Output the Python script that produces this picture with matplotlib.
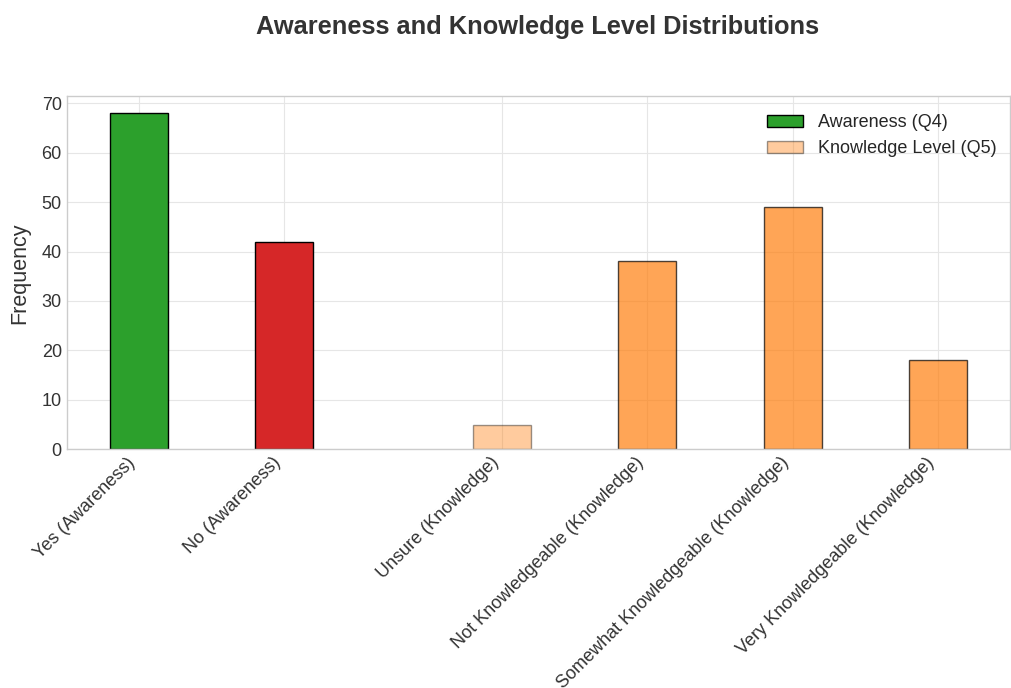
import numpy as np
import matplotlib
matplotlib.use("Agg")
import matplotlib.pyplot as plt
from matplotlib.patches import Patch

plt.style.use("seaborn-v0_8-whitegrid")
plt.rcParams['font.family'] = ['Liberation Sans', 'DejaVu Sans']

# Data
awareness_labels = ["Yes (Awareness)", "No (Awareness)"]
awareness_counts = [68, 42]
knowledge_labels = ["Unsure (Knowledge)", "Not Knowledgeable (Knowledge)",
                    "Somewhat Knowledgeable (Knowledge)", "Very Knowledgeable (Knowledge)"]
knowledge_counts = [5, 38, 49, 18]

aw_pos = np.arange(len(awareness_labels))
kn_pos = np.arange(len(knowledge_labels)) + len(awareness_labels) + 0.5

fig, ax = plt.subplots(figsize=(10.11, 6.88), dpi=100)
fig.subplots_adjust(left=0.066, right=0.999, top=0.86, bottom=0.347)

ax.bar(aw_pos, awareness_counts, width=0.4, color=["#2ca02c", "#d62728"],
       edgecolor="black", linewidth=1)
kn_alpha = [0.4, 0.7, 0.7, 0.7]
for p, c, a in zip(kn_pos, knowledge_counts, kn_alpha):
    ax.bar(p, c, width=0.4, color="#ff7f0e", alpha=a, edgecolor="black", linewidth=1)

ax.set_xticks(np.concatenate([aw_pos, kn_pos]))
ax.set_xticklabels(awareness_labels + knowledge_labels, rotation=45, ha="right",
                   fontsize=13, color="#333333")
ax.tick_params(axis="y", labelsize=13, labelcolor="#333333")
ax.set_ylabel("Frequency", fontsize=15.5, color="#333333", labelpad=8)
ax.grid(True, color="#e6e6e6", linewidth=0.8)
for s in ax.spines.values():
    s.set_color("#cccccc")

handles = [Patch(facecolor="#2ca02c", edgecolor="black", label="Awareness (Q4)"),
           Patch(facecolor="#ff7f0e", alpha=0.4, edgecolor="black", label="Knowledge Level (Q5)")]
ax.legend(handles=handles, loc="upper right", fontsize=13, frameon=False,
          bbox_to_anchor=(1.003, 0.995))

# title centred over the axes
fig.suptitle("Awareness and Knowledge Level Distributions", fontsize=18.3,
             fontweight="bold", color="#333333", x=0.532, y=0.978)

fig.savefig("out.png", dpi=100)
